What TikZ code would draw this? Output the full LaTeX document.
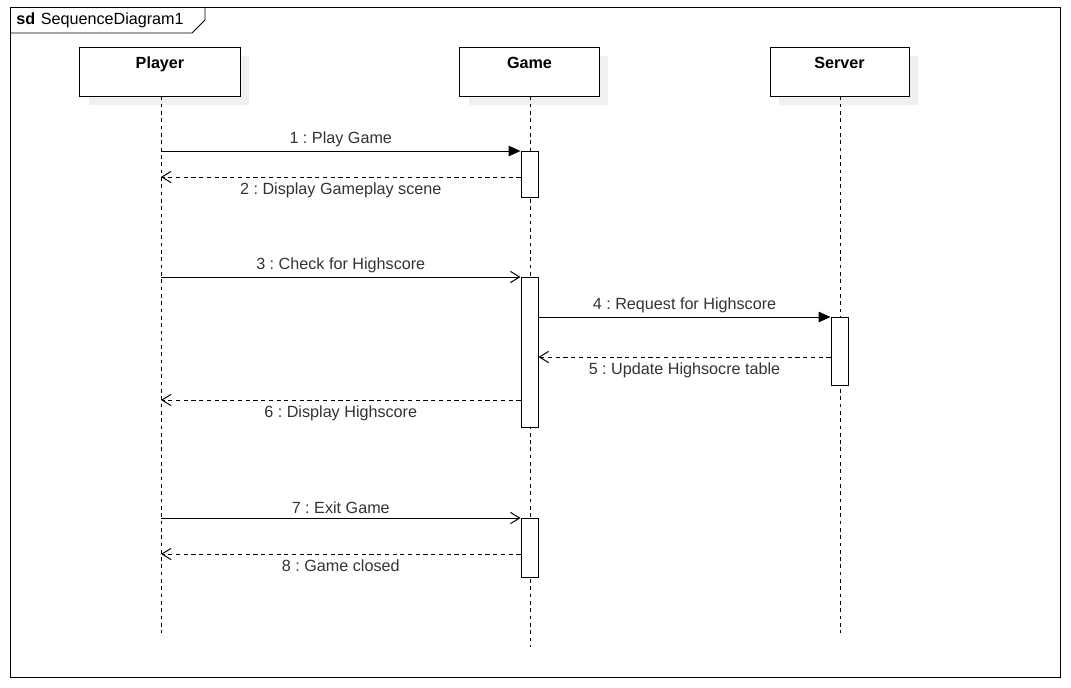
\documentclass[tikz,border=0pt]{standalone}
\usepackage{fontspec}
\setmainfont{Liberation Sans}
\usetikzlibrary{arrows.meta,shadows}
\frenchspacing

\begin{document}
\begin{tikzpicture}[x=0.025cm, y=-0.025cm,
    every node/.style={font=\fontsize{11.5}{13}\selectfont, text=black!80},
    head/.style={draw, line width=0.7pt, fill=white, minimum width=#1, minimum height=1.225cm, inner sep=0pt,
        drop shadow={shadow xshift=0.225cm, shadow yshift=-0.225cm, fill=black!6, opacity=1}},
    headtext/.style={anchor=north, font=\fontsize{11.5}{13}\selectfont\bfseries, text=black, inner sep=2pt},
    life/.style={dash pattern=on 2.6pt off 2.6pt, line width=0.55pt},
    act/.style={draw, line width=0.7pt, fill=white, anchor=north, minimum width=0.425cm, minimum height=#1, inner sep=0pt},
    call/.style={line width=0.7pt, -{Triangle[length=8.5pt,width=7.5pt]}},
    async/.style={line width=0.7pt, -{Straight Barb[length=6.5pt,width=8pt,line width=0.7pt]}},
    reply/.style={line width=0.7pt, dash pattern=on 3pt off 2.5pt, -{Straight Barb[length=6.5pt,width=8pt,line width=0.7pt]}}]
                \useasboundingbox (0,0) rectangle (1071,687);
                \draw[line width=0.7pt] (10,7) rectangle (1060,677); % frame
                \draw[line width=0.7pt] (10,33) -- (192,33) -- (205,20) -- (205,7); % tag
                \node[anchor=west, inner sep=0pt, text=black] (tag) at (16,20) {\textbf{sd}\hspace{4pt}SequenceDiagram1};

                % lifelines
                \node[head=4cm] (player) at (160,71.5) {};
                \node[head=3.475cm] (game) at (529.5,71.5) {};
                \node[head=3.475cm] (server) at (839.5,71.5) {};
                \node[headtext] at ([yshift=-0.18cm]player.north) {Player};
                \node[headtext] at ([yshift=-0.18cm]game.north) {Game};
                \node[headtext] at ([yshift=-0.18cm]server.north) {Server};
                \coordinate (player end) at (161,633);
                \coordinate (game end) at (530,647);
                \coordinate (server end) at (840,633);
                \draw[life] (player.south -| player end) -- (player end);
                \draw[life] (game.south -| game end) -- (game end);
                \draw[life] (server.south -| server end) -- (server end);

                % activations
                \node[act=1.15cm] (g1) at (529.5,151) {};
                \node[act=3.75cm] (g2) at (529.5,277) {};
                \node[act=1.7cm] (s1) at (839.5,317) {};
                \node[act=1.475cm] (g3) at (529.5,518) {};

                % messages
                \coordinate (p1) at (161,151);
                \coordinate (p2) at (161,177);
                \coordinate (p3) at (161,277);
                \coordinate (p6) at (161,400);
                \coordinate (p7) at (161,518);
                \coordinate (p8) at (161,554);
                \draw[call] (p1) -- node[above=-0.5pt]{1 : Play Game} (g1.north west);
                \draw[reply] (g1.west |- p2) -- node[below=0.5pt]{2 : Display Gameplay scene} (p2);
                \draw[async] (p3) -- node[above=-0.5pt]{3 : Check for Highscore} (g2.north west);
                \draw[call] (g2.east |- s1.north) -- node[above=-0.5pt]{4 : Request for Highscore} (s1.north west);
                \draw[reply] ([yshift=-1cm]s1.north west) -- node[below=0.5pt]{5 : Update Highsocre table} ([yshift=-1cm]s1.north west -| g2.east);
                \draw[reply] (g2.west |- p6) -- node[below=0.5pt]{6 : Display Highscore} (p6);
                \draw[async] (p7) -- node[above=-0.5pt]{7 : Exit Game} (g3.north west);
                \draw[reply] (g3.west |- p8) -- node[below=0.5pt]{8 : Game closed} (p8);
            \end{tikzpicture}
\end{document}
